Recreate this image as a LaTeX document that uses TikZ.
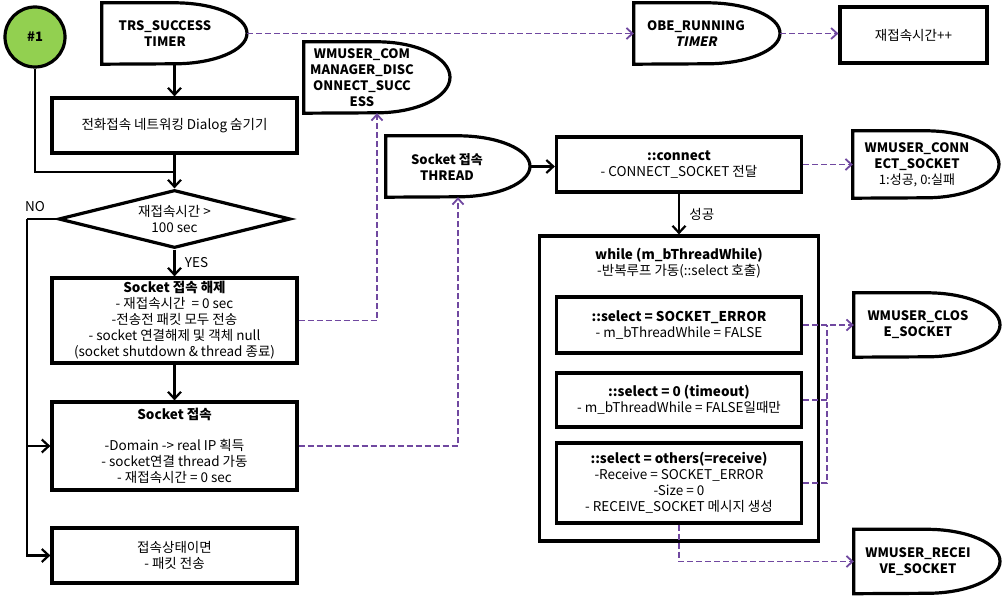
\documentclass[tikz,border=0pt]{standalone}
\usepackage{fontspec}
\setmainfont{Noto Sans CJK KR}
\newfontfamily\slfont{Noto Sans CJK KR}[FakeSlant=0.2]
\usetikzlibrary{arrows.meta,shapes.geometric,calc}
\definecolor{grn}{RGB}{146,208,80}
\definecolor{purp}{RGB}{112,72,160}
\newcommand\delayoutline[3]{\draw[boxline] (#1.north west) -- (#1.north) arc[start angle=90,end angle=-90,x radius=#2pt,y radius=#3pt] -- (#1.south west) -- cycle;}
\begin{document}
\begin{tikzpicture}[x=1pt,y=-1pt,
  font=\fontsize{13.5}{16}\selectfont,
  boxline/.style={line width=3.2pt, line join=miter},
  box/.style={draw, boxline, align=center, inner sep=0pt},
  dshape/.style={inner sep=0pt},
  dtext/.style={align=center, font=\fontsize{13}{16}\selectfont\bfseries, inner sep=0pt},
  flow/.style={line width=2.2pt, -{Straight Barb[length=7pt,width=13pt]}},
  plain/.style={line width=2.2pt},
  dline/.style={purp, line width=1.8pt, dash pattern=on 6pt off 3pt},
  darrow/.style={dline, -{Straight Barb[length=6pt,width=11pt]}},
]
\useasboundingbox (0,0) rectangle (1002,596);

% left column
\node[circle, draw, boxline, fill=grn, minimum size=60pt, inner sep=0pt, font=\fontsize{13}{15}\selectfont\bfseries] (c1) at (35,37) {\#1};

\node[dshape, minimum width=145pt, minimum height=61pt] (trs) at (174.5,33.5) {};
\delayoutline{trs}{72.5}{30.5}
\node[dtext] (trst) at (165,34) {TRS\_SUCCESS\\TIMER};

\node[box, minimum width=245pt, minimum height=55pt] (dialog) at (174.5,125.5) {전화접속 네트워킹 Dialog 숨기기};

\node[diamond, draw, boxline, aspect=4, minimum width=232pt, minimum height=58pt, inner sep=0pt, align=center] (dia) at (174.5,219) {재접속시간 >\\100 sec};

\node[box, minimum width=245pt, minimum height=85pt] (release) at (174.5,320.5) {\textbf{Socket 접속 해제}\\- 재접속시간 \ = 0 sec\\-전송전 패킷 모두 전송\\- socket 연결해제 및 객체 null\\(socket shutdown \& thread 종료)};

\node[box, minimum width=245pt, minimum height=88pt] (sock) at (174.5,446) {\textbf{Socket 접속}\\[15pt]-Domain -> real IP 획득\\- socket연결 thread 가동\\- 재접속시간 = 0 sec};

\node[box, minimum width=245pt, minimum height=55pt] (packet) at (174.5,555.5) {접속상태이면\\- 패킷 전송};

\coordinate (j1) at (174.5,172);
\draw[flow] (trs.south) -- (dialog.north);
\draw[flow] (dialog.south) -- (dia.north);
\draw[plain] (c1.south) |- (j1);
\draw[flow] (dia.south) -- node[right, xshift=6pt, name=yes]{YES} (release.north);
\draw[flow] (release.south) -- (sock.north);

\coordinate (nol) at (27,219);
\node[inner sep=0pt] (no) at (35,207) {NO};
\draw[plain] (dia.west) -- (nol);
\draw[flow] (nol) |- (packet.west);
\draw[flow] (nol |- sock.west) -- (sock.west);

% top right
\node[dshape, minimum width=146pt, minimum height=61pt] (obe) at (707,33.5) {};
\delayoutline{obe}{73}{30.5}
\node[dtext] (obet) at (696,34) {OBE\_RUNNING\\{\slfont\bfseries TIMER}};

\node[box, minimum width=147pt, minimum height=56pt] (reconn) at (913.5,35) {재접속시간++};

\draw[darrow] (trs.east) -- (obe.west);
\draw[darrow] (obe.east) -- (obe.east -| reconn.west);

% middle
\node[dshape, minimum width=146pt, minimum height=71pt] (wmcom) at (377,77.5) {};
\delayoutline{wmcom}{73}{35.5}
\node[dtext] (wmcomt) at (362,78) {WMUSER\_COM\\MANAGER\_DISC\\ONNECT\_SUCC\\ESS};

\node[dshape, minimum width=144pt, minimum height=61pt] (thread) at (458,166.5) {};
\delayoutline{thread}{72}{30.5}
\node[dtext] (threadt) at (447,167) {Socket 접속\\THREAD};

\draw[darrow] (release.east) -| (wmcom.south);
\draw[darrow] (sock.east) -| (thread.south);

% right part
\node[box, minimum width=245pt, minimum height=55pt] (connect) at (679,164.5) {\textbf{::connect}\\- CONNECT\_SOCKET 전달};
\draw[flow] (thread.east) -- (thread.east -| connect.west);

\node[dshape, minimum width=146pt, minimum height=67pt] (wmconn) at (926,164.5) {};
\delayoutline{wmconn}{73}{33.5}
\node[align=center, inner sep=0pt, font=\fontsize{13}{16}\selectfont] (wmconnt) at (917,165) {\textbf{WMUSER\_CONN}\\\textbf{ECT\_SOCKET}\\1:성공, 0:실패};
\draw[darrow] (connect.east) -- (connect.east -| wmconn.west);

\node[box, minimum width=279pt, minimum height=305pt] (while) at (679,388.5) {};
\node[align=center, inner sep=0pt] (wtitle) at (679,263) {\textbf{while (m\_bThreadWhile)}\\-반복루프 가동(::select 호출)};
\draw[flow] (connect.south) -- node[right, xshift=6pt, name=ok]{성공} (while.north);

\node[box, minimum width=245pt, minimum height=56pt] (sel1) at (679,325) {\textbf{::select = SOCKET\_ERROR}\\- m\_bThreadWhile = FALSE};
\node[box, minimum width=245pt, minimum height=54pt] (sel2) at (679,400) {\textbf{::select = 0 (timeout)}\\- m\_bThreadWhile = FALSE일때만};
\node[box, minimum width=245pt, minimum height=80pt] (sel3) at (679,483) {\textbf{::select = others(=receive)}\\-Receive = SOCKET\_ERROR\\-Size = 0\\- RECEIVE\_SOCKET 메시지 생성};

\node[dshape, minimum width=146pt, minimum height=64pt] (close) at (927,325) {};
\delayoutline{close}{73}{32}
\node[dtext] (closet) at (918,325) {WMUSER\_CLOS\\E\_SOCKET};

\node[dshape, minimum width=146pt, minimum height=64pt] (recv) at (927,561.5) {};
\delayoutline{recv}{73}{32}
\node[dtext] (recvt) at (918,562) {WMUSER\_RECEI\\VE\_SOCKET};

\coordinate (vx) at (827,325);
\draw[darrow] (sel1.east) -- (sel1.east -| close.west);
\draw[dline] (sel2.east) -- (vx |- sel2.east);
\draw[dline] (sel3.east) -- (vx |- sel3.east) -- (vx);
\draw[darrow] (sel3.south) |- (recv.west);
\end{tikzpicture}
\end{document}
